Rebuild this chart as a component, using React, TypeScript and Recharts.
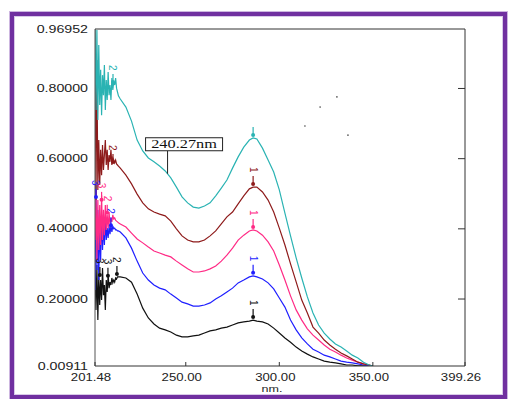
import { LineChart, Line, XAxis, YAxis, ReferenceDot, Label } from 'recharts';

// wavelength grid (nm): dense in the noisy start, every 3 nm afterwards
const wavelengths = [
  201.5, 202, 202.5, 203, 203.5, 204, 204.5, 205, 205.5, 206, 206.5, 207, 207.5,
  208, 208.5, 209, 209.5, 210, 210.5, 211, 211.5, 212, 212.5, 213, 213.5, 214,
  215, 218, 221, 224, 227, 230, 233, 236, 239, 242, 245, 248, 251, 254, 257, 260,
  263, 266, 269, 272, 275, 278, 281, 284, 286, 288, 291, 294, 297, 300, 303, 306,
  309, 312, 315, 318, 321, 324, 327, 330, 333, 336, 339, 342, 345, 348, 350,
];

const teal = [
  0.969, 0.739, 0.967, 0.71, 0.924, 0.753, 0.853, 0.724, 0.838, 0.781, 0.867, 0.739, 0.824,
  0.767, 0.847, 0.781, 0.81, 0.767, 0.83, 0.796, 0.818, 0.81, 0.83, 0.801, 0.79, 0.779,
  0.77, 0.747, 0.707, 0.653, 0.622, 0.602, 0.591, 0.579, 0.565, 0.545, 0.519, 0.491, 0.474,
  0.462, 0.459, 0.465, 0.474, 0.494, 0.516, 0.539, 0.573, 0.605, 0.633, 0.653, 0.659, 0.656,
  0.63, 0.596, 0.562, 0.511, 0.445, 0.38, 0.317, 0.26, 0.206, 0.16, 0.126, 0.103, 0.086,
  0.072, 0.063, 0.052, 0.04, 0.032, 0.02, 0.012, 0.0091,
];

const maroon = [
  0.969, 0.482, 0.881, 0.511, 0.653, 0.525, 0.625, 0.553, 0.639, 0.568, 0.61, 0.653, 0.582,
  0.625, 0.568, 0.61, 0.591, 0.625, 0.582, 0.602, 0.596, 0.588, 0.596, 0.585, 0.582, 0.579,
  0.573, 0.553, 0.528, 0.499, 0.474, 0.457, 0.448, 0.442, 0.437, 0.422, 0.4, 0.38, 0.368,
  0.363, 0.363, 0.368, 0.38, 0.394, 0.414, 0.434, 0.448, 0.471, 0.494, 0.514, 0.519, 0.519,
  0.505, 0.482, 0.448, 0.402, 0.354, 0.3, 0.249, 0.197, 0.16, 0.12, 0.103, 0.083, 0.069,
  0.057, 0.046, 0.038, 0.029, 0.02, 0.015, 0.012, 0.0091,
];

const pink = [
  0.368, 0.511, 0.311, 0.482, 0.34, 0.468, 0.354, 0.496, 0.368, 0.454, 0.382, 0.468, 0.397,
  0.44, 0.402, 0.448, 0.411, 0.431, 0.42, 0.44, 0.428, 0.431, 0.425, 0.422, 0.42, 0.417,
  0.414, 0.405, 0.388, 0.371, 0.36, 0.348, 0.337, 0.331, 0.325, 0.32, 0.308, 0.297, 0.286,
  0.277, 0.277, 0.28, 0.286, 0.294, 0.308, 0.325, 0.345, 0.368, 0.382, 0.394, 0.397, 0.394,
  0.382, 0.363, 0.337, 0.297, 0.254, 0.209, 0.169, 0.14, 0.115, 0.097, 0.083, 0.069, 0.057,
  0.049, 0.04, 0.032, 0.026, 0.02, 0.015, 0.012, 0.0091,
];

const blue = [
  0.226, 0.525, 0.283, 0.454, 0.254, 0.425, 0.311, 0.44, 0.34, 0.411, 0.354, 0.425, 0.368,
  0.402, 0.374, 0.408, 0.385, 0.411, 0.391, 0.408, 0.4, 0.402, 0.397, 0.397, 0.394, 0.394,
  0.391, 0.374, 0.345, 0.308, 0.274, 0.254, 0.24, 0.231, 0.226, 0.214, 0.203, 0.191, 0.186,
  0.18, 0.18, 0.183, 0.189, 0.2, 0.209, 0.22, 0.231, 0.246, 0.254, 0.263, 0.266, 0.263,
  0.257, 0.246, 0.229, 0.203, 0.177, 0.14, 0.112, 0.089, 0.072, 0.057, 0.049, 0.04, 0.035,
  0.029, 0.023, 0.02, 0.018, 0.015, 0.012, 0.0093, 0.0091,
];

const black = [
  0.283, 0.169, 0.297, 0.14, 0.269, 0.183, 0.254, 0.197, 0.288, 0.211, 0.24, 0.169, 0.254,
  0.22, 0.269, 0.231, 0.248, 0.24, 0.26, 0.246, 0.254, 0.248, 0.26, 0.257, 0.263, 0.263,
  0.263, 0.26, 0.248, 0.214, 0.174, 0.146, 0.129, 0.117, 0.112, 0.106, 0.097, 0.092, 0.092,
  0.095, 0.097, 0.103, 0.109, 0.112, 0.117, 0.12, 0.126, 0.132, 0.135, 0.137, 0.14, 0.137,
  0.135, 0.129, 0.117, 0.103, 0.089, 0.077, 0.063, 0.052, 0.043, 0.035, 0.029, 0.023, 0.02,
  0.018, 0.015, 0.012, 0.012, 0.0093, 0.0093, 0.0093, 0.0091,
];

// peak pick marks: wavelength, absorbance, label
const tealMarks = [{ nm: 211.1, value: 0.81, label: '2' }, { nm: 286, value: 0.659, label: '' }];
const maroonMarks = [{ nm: 211.1, value: 0.582, label: '2' }, { nm: 286, value: 0.519, label: '1' }];
const pinkMarks = [{ nm: 205, value: 0.474, label: '3' }, { nm: 208, value: 0.437, label: '2' }, { nm: 286, value: 0.397, label: '1' }];
const blueMarks = [{ nm: 202, value: 0.482, label: '3' }, { nm: 210, value: 0.402, label: '2' }, { nm: 286, value: 0.266, label: '1' }];
const blackMarks = [{ nm: 204.1, value: 0.26, label: '3' }, { nm: 208.4, value: 0.258, label: '3' }, { nm: 213.2, value: 0.263, label: '2' }, { nm: 286, value: 0.14, label: '1' }];

const annotation = { nm: 240.27, value: 0.557, text: '240.27nm' };
const specks = [
  { nm: 321.8, value: 0.747 },
  { nm: 330.8, value: 0.776 },
  { nm: 313.7, value: 0.693 },
  { nm: 336.7, value: 0.667 },
];

const xTicks = [201.48, 250, 300, 350, 399.26];
const yTicks = [0.00911, 0.2, 0.4, 0.6, 0.8, 0.96952];
const innerXTicks = [250, 300, 350];
const innerYTicks = [0.2, 0.4, 0.6, 0.8];

const X_DOMAIN: [number, number] = [201.48, 399.26];
const Y_DOMAIN: [number, number] = [0.00911, 0.96952];

const data = wavelengths.map((nm, i) => ({
  nm,
  teal: teal[i],
  maroon: maroon[i],
  pink: pink[i],
  blue: blue[i],
  black: black[i],
}));

const series = [
  { key: 'black', color: '#111111', marks: blackMarks },
  { key: 'blue', color: '#1f1fff', marks: blueMarks },
  { key: 'pink', color: '#ff2a85', marks: pinkMarks },
  { key: 'maroon', color: '#8e1b1b', marks: maroonMarks },
  { key: 'teal', color: '#2ab3b3', marks: tealMarks },
];

const FONT = '"Liberation Sans", Arial, sans-serif';
const TEXT = '#222';
const FRAME = '#333';

const BottomTick = ({ x, y, payload }: any) => (
  <g>
    <line x1={x} y1={y} x2={x} y2={y - 4} stroke={FRAME} />
    <text
      transform={`translate(${x - 4},${y + 15}) scale(1.32,1)`}
      textAnchor="middle"
      fontSize={10}
      fontFamily={FONT}
      fill={TEXT}
    >
      {Number(payload.value).toFixed(2)}
    </text>
  </g>
);

const LeftTick = ({ x, y, payload }: any) => (
  <text
    transform={`translate(${x - 7},${y + 3.5}) scale(1.42,1)`}
    textAnchor="end"
    fontSize={10}
    fontFamily={FONT}
    fill={TEXT}
  >
    {Number(payload.value).toFixed(5)}
  </text>
);

const TopTick = ({ x, y }: any) => <line x1={x} y1={y} x2={x} y2={y + 4} stroke={FRAME} />;
const RightTick = ({ x, y }: any) => <line x1={x} y1={y} x2={x - 7} y2={y} stroke={FRAME} />;

const PeakMark = ({ cx, cy, color, label }: any) => (
  <g>
    <line x1={cx} y1={cy - 11} x2={cx} y2={cy - 2} stroke={color} strokeWidth={1.2} />
    <circle cx={cx} cy={cy - 3} r={2} fill={color} />
    {label ? (
      <text
        transform={`translate(${cx - 3.5},${cy - 20}) rotate(90)`}
        fontSize={10}
        fontFamily={FONT}
        fill={color}
      >
        {label}
      </text>
    ) : null}
  </g>
);

const Callout = ({ cx, cy }: any) => (
  <g>
    <line x1={cx} y1={cy} x2={cx} y2={cy - 23} stroke="#222" />
    <rect x={cx - 22} y={cy - 36} width={77} height={13} fill="#fff" stroke="#222" />
    <text
      transform={`translate(${cx + 16.5},${cy - 25.5}) scale(1.36,1)`}
      textAnchor="middle"
      fontSize={12}
      fontFamily='"Liberation Serif", serif'
      fill="#111"
    >
      {annotation.text}
    </text>
  </g>
);

const NmLabel = ({ viewBox }: any) => (
  <text
    transform={`translate(${viewBox.x + viewBox.width / 2 - 8},${viewBox.y + 25.5}) scale(1.32,1)`}
    textAnchor="middle"
    fontSize={9.5}
    fontFamily={FONT}
    fill={TEXT}
  >
    nm.
  </text>
);

export default function App() {
  return (
    <div style={{ position: 'absolute', left: 0, top: 0, width: 508, height: 399, background: '#fff', overflow: 'hidden' }}>
      <div
        style={{
          position: 'absolute',
          left: 9,
          top: 11,
          width: 499,
          height: 389,
          boxSizing: 'border-box',
          border: '1px solid #cdb6e0',
        }}
      >
        <div style={{ width: '100%', height: '100%', boxSizing: 'border-box', border: '4px solid #7030a0' }}>
          <div style={{ width: '100%', height: '100%', boxSizing: 'border-box', border: '1px solid #d9c9e9' }} />
        </div>
      </div>
      <div style={{ position: 'absolute', left: 0, top: 0 }}>
        <LineChart width={508} height={399} data={data} margin={{ top: 28, right: 42, bottom: 3, left: 35 }}>
          <XAxis
            dataKey="nm"
            type="number"
            domain={X_DOMAIN}
            ticks={xTicks}
            interval={0}
            allowDataOverflow
            height={30}
            tickSize={0}
            tickMargin={0}
            tickLine={false}
            axisLine={{ stroke: FRAME }}
            tick={(p: any) => <BottomTick {...p} />}
          >
            <Label content={(p: any) => <NmLabel {...p} />} />
          </XAxis>
          <XAxis
            xAxisId="top"
            orientation="top"
            type="number"
            domain={X_DOMAIN}
            ticks={innerXTicks}
            interval={0}
            allowDataOverflow
            height={1}
            tickSize={0}
            tickMargin={0}
            tickLine={false}
            axisLine={{ stroke: FRAME }}
            tick={(p: any) => <TopTick {...p} />}
          />
          <YAxis
            type="number"
            domain={Y_DOMAIN}
            ticks={yTicks}
            interval={0}
            allowDataOverflow
            width={60}
            tickSize={0}
            tickMargin={0}
            tickLine={false}
            axisLine={{ stroke: '#555' }}
            tick={(p: any) => <LeftTick {...p} />}
          />
          <YAxis
            yAxisId="right"
            orientation="right"
            type="number"
            domain={Y_DOMAIN}
            ticks={innerYTicks}
            interval={0}
            allowDataOverflow
            width={1}
            tickSize={0}
            tickMargin={0}
            tickLine={false}
            axisLine={{ stroke: FRAME }}
            tick={(p: any) => <RightTick {...p} />}
          />
          {series.map((s) => (
            <Line
              key={s.key}
              dataKey={s.key}
              type="linear"
              stroke={s.color}
              strokeWidth={1.2}
              dot={false}
              activeDot={false}
              isAnimationActive={false}
            />
          ))}
          {series.map((s) =>
            s.marks.map((m, i) => (
              <ReferenceDot
                key={`${s.key}-${i}`}
                x={m.nm}
                y={m.value}
                ifOverflow="visible"
                shape={(p: any) => <PeakMark {...p} color={s.color} label={m.label} />}
              />
            ))
          )}
          <ReferenceDot
            x={annotation.nm}
            y={annotation.value}
            ifOverflow="visible"
            shape={(p: any) => <Callout {...p} />}
          />
          {specks.map((d, i) => (
            <ReferenceDot key={`speck-${i}`} x={d.nm} y={d.value} r={0.8} fill="#444" stroke="none" />
          ))}
        </LineChart>
      </div>
    </div>
  );
}
